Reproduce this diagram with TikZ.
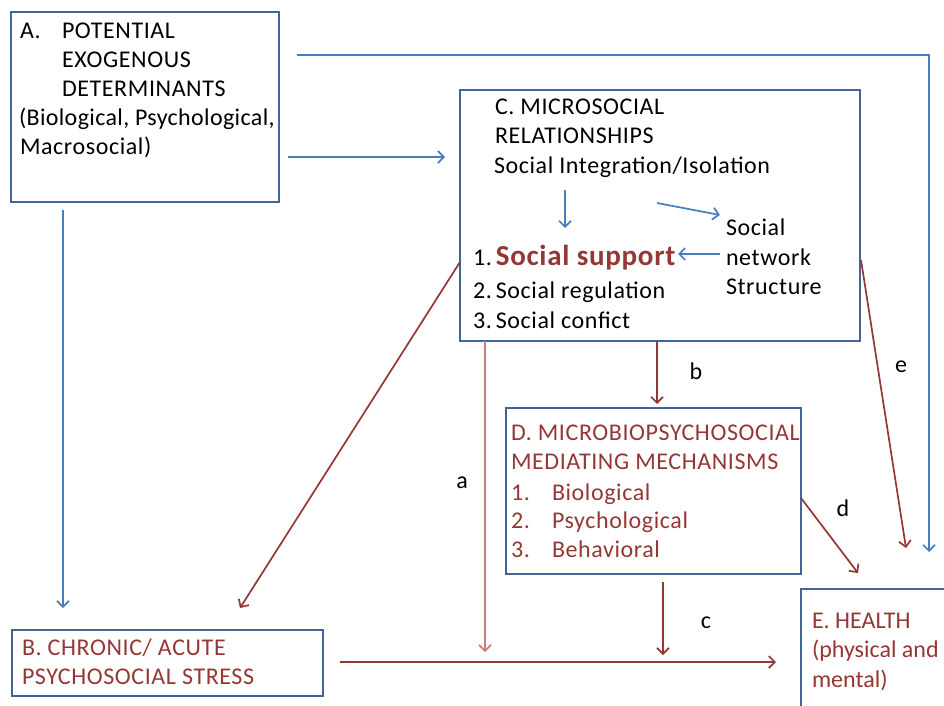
\documentclass[tikz,border=0pt]{standalone}
\usepackage{fontspec}
\setmainfont{Carlito}[LetterSpace=2.5]
\newfontfamily\tightfont{Carlito}
\newfontfamily\midfont{Carlito}[LetterSpace=1.5]
\usetikzlibrary{arrows.meta}
\definecolor{boxblue}{HTML}{3F6599}
\definecolor{lineblue}{HTML}{4A7EBB}
\definecolor{darkred}{HTML}{953735}
\definecolor{palered}{HTML}{C8807E}
\begin{document}
\begin{tikzpicture}[x=1pt,y=-1pt,
  box/.style={draw=boxblue,line width=1.7pt,inner sep=0pt,outer sep=0pt,anchor=north west},
  txt/.style={anchor=base west,inner sep=0pt,outer sep=0pt,font=\fontsize{24}{29}\selectfont},
  redtxt/.style={txt,text=darkred},
  tighttxt/.style={redtxt,font=\fontsize{24}{29}\tightfont},
  lbl/.style={inner sep=0pt,font=\fontsize{24}{29}\selectfont},
  tip/.style={-{Straight Barb[length=6pt,width=12pt]}},
  blueconn/.style={draw=lineblue,line width=1.7pt,tip},
  redconn/.style={draw=darkred,line width=1.7pt,tip},
  paleconn/.style={draw=palered,line width=1.7pt,tip}]

% canvas
\fill[white] (0,0) rectangle (944,705);
\clip (0,0) rectangle (944,705);

% boxes
\node[box,minimum width=268pt,minimum height=190pt] (boxA) at (11,12) {};
\node[box,minimum width=400pt,minimum height=251pt] (boxC) at (460,90) {};
\node[box,minimum width=295pt,minimum height=166pt] (boxD) at (506,408) {};
\node[box,minimum width=311pt,minimum height=66pt] (boxB) at (12,630) {};
\node[box,minimum width=180pt,minimum height=140pt] (boxE) at (801,589) {};

% A: potential exogenous determinants
\node[txt] (aNum) at (20,38) {A.};
\node[txt] (aL1) at (62,38) {POTENTIAL};
\node[txt] (aL2) at (62,67) {EXOGENOUS};
\node[txt] (aL3) at (62,96) {DETERMINANTS};
\node[txt,font=\fontsize{24}{29}\midfont] (aL4) at (19,125) {(Biological, Psychological,};
\node[txt] (aL5) at (20,154) {Macrosocial)};

% C: microsocial relationships
\node[txt] (cL1) at (495,114) {C. MICROSOCIAL};
\node[txt] (cL2) at (495,143) {RELATIONSHIPS};
\node[txt] (cL3) at (494,173) {Social Integration/Isolation};
\node[txt] (cS1) at (473,265) {1.\,\textcolor{darkred}{\fontsize{29}{29}\selectfont\bfseries Social support}};
\node[txt] (cS2) at (473,298) {2.\,Social regulation};
\node[txt] (cS3) at (473,328) {3.\,Social confict};
\node[txt] (cN1) at (726,235) {Social};
\node[txt] (cN2) at (726,265) {network};
\node[txt] (cN3) at (726,294) {Structure};

% D: mediating mechanisms
\node[redtxt] (dL1) at (511,440) {D. MICROBIOPSYCHOSOCIAL};
\node[redtxt] (dL2) at (511,469) {MEDIATING MECHANISMS};
\node[redtxt] (dN1) at (511,500) {1.};
\node[redtxt] (dI1) at (552,500) {Biological};
\node[redtxt] (dN2) at (511,528) {2.};
\node[redtxt] (dI2) at (552,528) {Psychological};
\node[redtxt] (dN3) at (511,557) {3.};
\node[redtxt] (dI3) at (552,557) {Behavioral};

% B: stress
\node[redtxt] (bL1) at (22,655) {B. CHRONIC/ ACUTE};
\node[redtxt] (bL2) at (22,684) {PSYCHOSOCIAL STRESS};

% E: health
\node[tighttxt] (eL1) at (812,628) {E. HEALTH};
\node[tighttxt] (eL2) at (812,657) {(physical and};
\node[tighttxt] (eL3) at (812,687) {mental)};

% path labels
\node[lbl] (la) at (462,483) {a};
\node[lbl] (lb) at (696,371) {b};
\node[lbl] (lc) at (706,623) {c};
\node[lbl] (ld) at (843,508) {d};
\node[lbl] (le) at (901,367) {e};

% connector end points
\coordinate (acStart) at (288,157);
\coordinate (acEnd) at (445,157);
\coordinate (topStart) at (297,55);
\coordinate (topCorner) at (929,55);
\coordinate (topEnd) at (929,552);
\coordinate (abStart) at (63,210);
\coordinate (abEnd) at (63,608);
\coordinate (innerDownS) at (565,190);
\coordinate (innerDownE) at (565,228);
\coordinate (innerDiagS) at (657,203);
\coordinate (innerDiagE) at (720,215);
\coordinate (innerLeftS) at (720,254);
\coordinate (innerLeftE) at (678,254);
\coordinate (cbStart) at (460,262);
\coordinate (cbEnd) at (240,608);
\coordinate (aStart) at (485,341);
\coordinate (aEnd) at (485,652);
\coordinate (bStart) at (657,341);
\coordinate (bEnd) at (657,404);
\coordinate (cStart) at (663,582);
\coordinate (cEnd) at (663,655);
\coordinate (beStart) at (340,662);
\coordinate (beEnd) at (776,662);
\coordinate (dStart) at (801,498);
\coordinate (dEnd) at (858,573);
\coordinate (eStart) at (861,260);
\coordinate (eEnd) at (906,548);

% blue connectors from A and inside C
\draw[blueconn] (acStart) -- (acEnd);
\draw[blueconn] (topStart) -- (topCorner) -- (topEnd);
\draw[blueconn] (abStart) -- (abEnd);
\draw[blueconn] (innerDownS) -- (innerDownE);
\draw[blueconn] (innerDiagS) -- (innerDiagE);
\draw[blueconn] (innerLeftS) -- (innerLeftE);

% red pathways
\draw[redconn] (cbStart) -- (cbEnd);
\draw[paleconn] (aStart) -- (aEnd);
\draw[redconn] (bStart) -- (bEnd);
\draw[redconn] (cStart) -- (cEnd);
\draw[redconn] (beStart) -- (beEnd);
\draw[redconn] (dStart) -- (dEnd);
\draw[redconn] (eStart) -- (eEnd);
\end{tikzpicture}
\end{document}
